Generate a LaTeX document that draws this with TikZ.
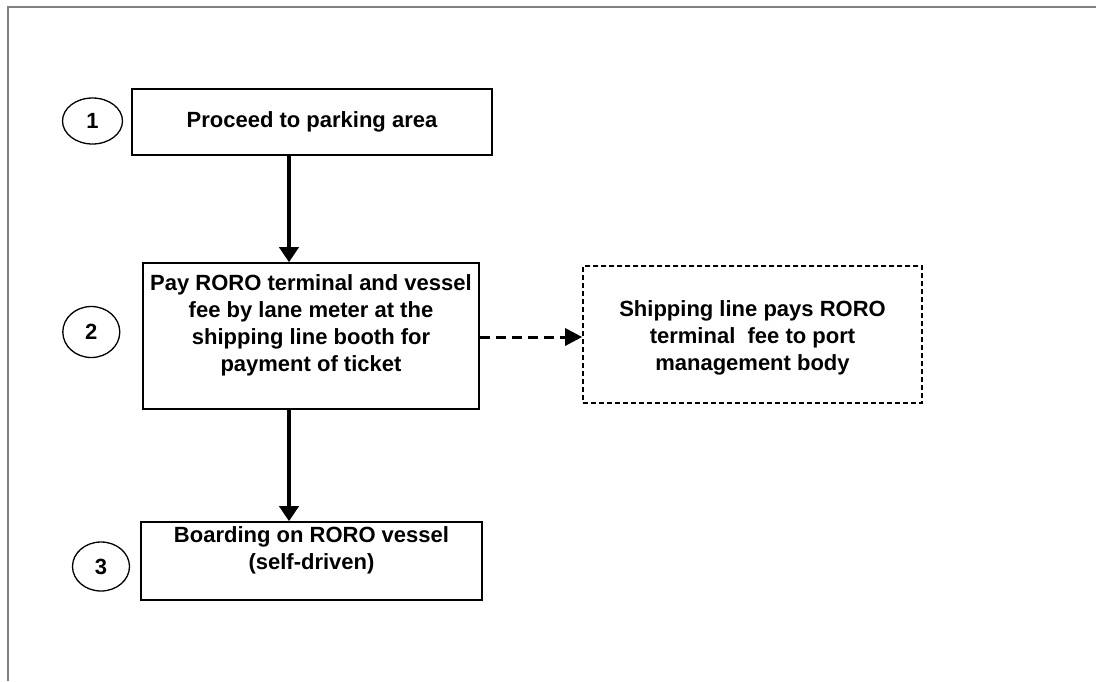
\documentclass[tikz,border=0pt]{standalone}
\usepackage{fontspec}
\setmainfont{Liberation Sans}
\usetikzlibrary{arrows.meta,shapes.geometric}
\begin{document}
\begin{tikzpicture}[x=1pt,y=-1pt,
  txt/.style={font=\fontsize{22}{27}\selectfont\bfseries, align=center, inner sep=0pt},
  stepbox/.style={draw, line width=1.6pt, rectangle, inner sep=0pt},
  dbox/.style={draw, line width=1.6pt, dash pattern=on 5pt off 3pt, rectangle, inner sep=0pt},
  num/.style={draw, line width=1.3pt, ellipse, inner sep=0pt, font=\fontsize{22}{24}\selectfont\bfseries},
  flow/.style={line width=3.8pt, -{Triangle[length=15pt,width=19pt]}},
  dflow/.style={line width=3pt, dash pattern=on 10pt off 6pt, -{Triangle[length=17pt,width=17pt]}},
  frame/.style={draw=black!50, line width=1.8pt}
]
\useasboundingbox (0,0) rectangle (1096,681);
\draw[frame] (8,681) -- (8,7) -- (1096,7);

% numbered circles
\node[num, minimum width=60pt, minimum height=46pt] (c1) at (92.5,121) {1};
\node[num, minimum width=57pt, minimum height=51pt] (c2) at (91.3,332) {2};
\node[num, minimum width=57pt, minimum height=49pt] (c3) at (101,566.5) {3};

% boxes
\node[stepbox, minimum width=360pt, minimum height=66pt, txt] (b1) at (312,122) {Proceed to parking area};
\node[stepbox, minimum width=336pt, minimum height=146pt] (b2) at (311,336) {};
\node[txt] (t2) at (311,325) {Pay RORO terminal and vessel\\fee by lane meter at the\\shipping line booth for\\payment of ticket};
\node[stepbox, minimum width=341pt, minimum height=78pt] (b3) at (311.5,561) {};
\node[txt] (t3) at (311.5,550) {Boarding on RORO vessel\\(self-driven)};
\node[dbox, minimum width=339pt, minimum height=137pt] (b4) at (752.5,334.5) {};
\node[txt] (t4) at (752.5,338) {Shipping line pays RORO\\terminal\ \ fee to port\\management body};

% connectors
\draw[flow] (b1.south -| 289,0) -- (b2.north -| 289,0);
\draw[flow] (b2.south -| 289,0) -- (b3.north -| 289,0);
\draw[dflow] (b2.east |- 0,337) -- (b4.west |- 0,337);
\end{tikzpicture}
\end{document}
